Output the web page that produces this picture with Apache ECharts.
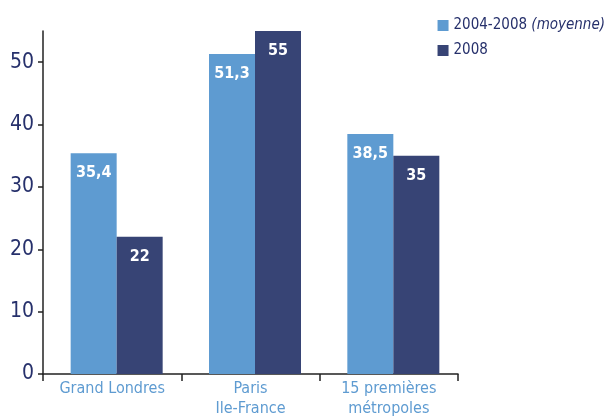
<!DOCTYPE html>
<html>
<head>
<meta charset="utf-8">
<script src="https://cdn.jsdelivr.net/npm/echarts@6/dist/echarts.min.js"></script>
<style>
  html, body { margin: 0; padding: 0; background: #fff; }
  #chart { width: 610px; height: 420px; }
</style>
</head>
<body>
<div id="chart"></div>
<script>
// Taux par zone : moyenne 2004-2008 et année 2008
const categories = ['Grand Londres', 'Paris\nIle-France', '15 premières\nmétropoles'];
const moyenne = [35.4, 51.3, 38.5];
const annee2008 = [22, 55, 35];
const yTicks = [0, 10, 20, 30, 40, 50];

const FONT = '"Liberation Sans Narrow", "DejaVu Sans Condensed", Roboto, sans-serif';
const NAVY = '#26306b';
const LIGHT = '#5e9bd1';
const DARK = '#374475';

const fmt = v => String(v).replace('.', ',');

const barLabel = {
  show: true,
  position: 'insideTop',
  distance: 12,
  color: '#fff',
  fontFamily: FONT,
  fontSize: 16,
  fontWeight: 'bold',
  formatter: p => fmt(p.value)
};

const chart = echarts.init(document.getElementById('chart'));
chart.setOption({
  animation: false,
  grid: { left: 43, right: 152, top: 31, bottom: 46 },
  legend: {
    data: ['2004-2008', '2008'],
    right: 0,
    top: 13,
    orient: 'vertical',
    itemWidth: 11,
    itemHeight: 11,
    itemGap: 10,
    icon: 'rect',
    textStyle: {
      fontFamily: FONT,
      fontSize: 15,
      color: NAVY,
      rich: {
        i: { fontFamily: FONT, fontSize: 15, color: NAVY, fontStyle: 'italic' },
        n: { fontFamily: FONT, fontSize: 15, color: NAVY }
      }
    },
    formatter: name => name === '2004-2008'
      ? '{n|2004-2008 }{i|(moyenne)}'
      : '{n|' + name + '}'
  },
  xAxis: {
    type: 'category',
    data: categories,
    axisLine: { lineStyle: { color: '#222', width: 1.5 } },
    axisTick: { show: true, length: 7, lineStyle: { color: '#222', width: 1.5 } },
    axisLabel: {
      fontFamily: FONT,
      fontSize: 16,
      lineHeight: 20,
      color: LIGHT,
      margin: 5,
      interval: 0
    }
  },
  yAxis: {
    type: 'value',
    min: 0,
    max: 55,
    interval: 10,
    splitLine: { show: false },
    axisLine: { show: true, lineStyle: { color: '#222', width: 1.5 } },
    axisTick: { show: true, length: 5, customValues: yTicks, lineStyle: { color: '#222', width: 1.5 } },
    axisLabel: {
      fontFamily: FONT,
      fontSize: 21,
      color: NAVY,
      margin: 9,
      customValues: yTicks
    }
  },
  series: [
    {
      // empty spacer slot, nudges the bar pair slightly right of the category centre
      name: 'spacer',
      type: 'bar',
      data: [null, null, null],
      barWidth: 9,
      silent: true
    },
    {
      name: '2004-2008',
      type: 'bar',
      data: moyenne,
      barWidth: 46,
      itemStyle: { color: LIGHT },
      label: barLabel
    },
    {
      name: '2008',
      type: 'bar',
      data: annee2008,
      barWidth: 46,
      barGap: '0%',
      itemStyle: { color: DARK },
      label: barLabel
    }
  ]
});
</script>
</body>
</html>
